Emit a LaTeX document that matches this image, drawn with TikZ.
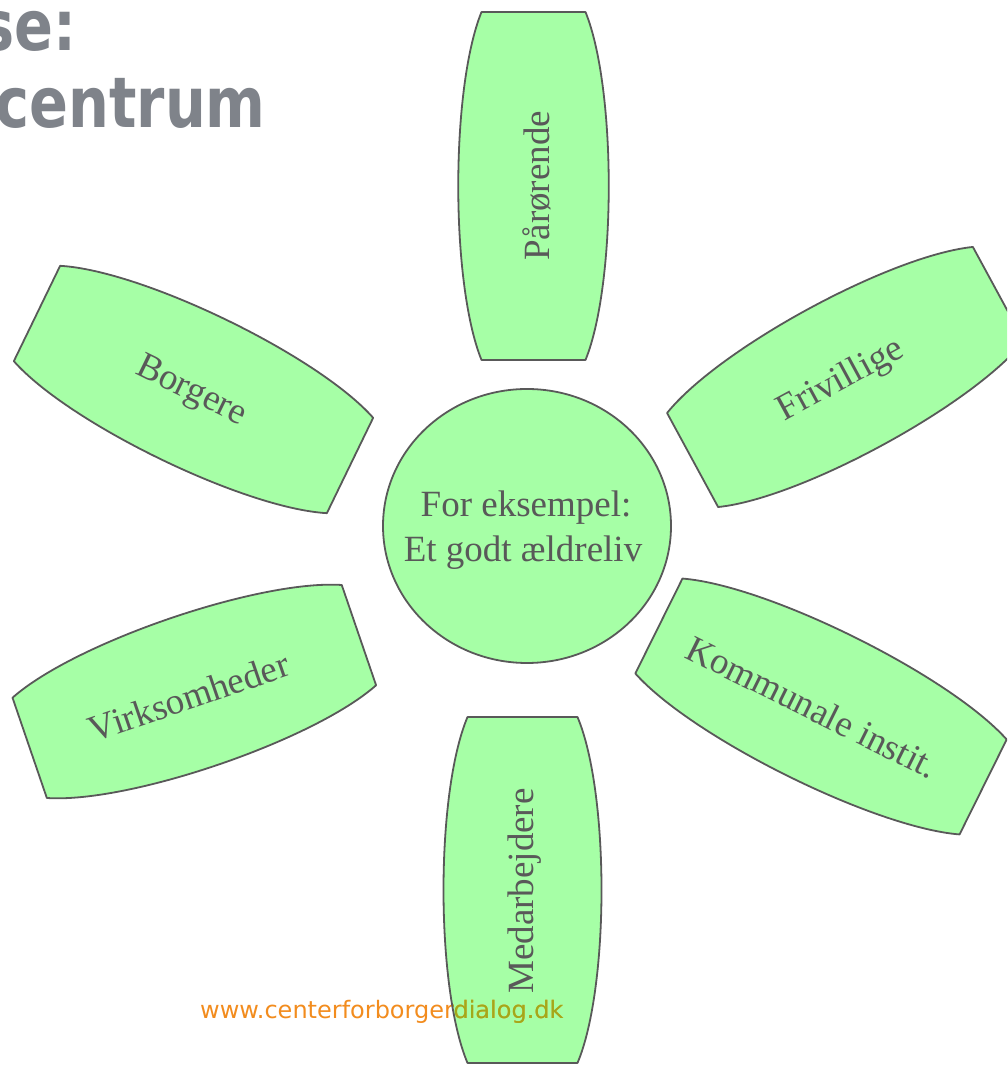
\documentclass[tikz,border=0pt]{standalone}
\usepackage{fontspec}
\setmainfont{Liberation Serif}
\newfontfamily\titlefont{DejaVu Sans}[FakeStretch=0.82]
\newfontfamily\urlfont{DejaVu Sans}
\usetikzlibrary{shapes.geometric}
\definecolor{petalfill}{RGB}{166,255,166}
\definecolor{petalline}{RGB}{89,89,89}
\definecolor{petaltxt}{RGB}{89,89,89}
\definecolor{titlegray}{RGB}{127,131,138}
\definecolor{urlorange}{RGB}{242,140,30}
\definecolor{urlolive}{RGB}{160,170,26}
% petal along local x axis, centred at origin: #1 half length, #2 end half width, #3 bulge control, #4 options
\newcommand\hpetal[4]{\path[#4] (-#1,-#2) -- (-#1,#2)
  .. controls ({-0.56*#1},{#2+#3}) and ({0.56*#1},{#2+#3}) .. (#1,#2) -- (#1,-#2)
  .. controls ({0.56*#1},{-#2-#3}) and ({-0.56*#1},{-#2-#3}) .. (-#1,-#2) -- cycle;}
% vertical petal in absolute coordinates: #1 cx, #2 cy, #3 half length, #4 half width, #5 bulge, #6 options
\newcommand\vpetal[6]{\path[#6] ({#1-#4},{#2-#3}) -- ({#1+#4},{#2-#3})
  .. controls ({#1+#4+#5},{#2-0.56*#3}) and ({#1+#4+#5},{#2+0.56*#3}) .. ({#1+#4},{#2+#3}) -- ({#1-#4},{#2+#3})
  .. controls ({#1-#4-#5},{#2+0.56*#3}) and ({#1-#4-#5},{#2-0.56*#3}) .. ({#1-#4},{#2-#3}) -- cycle;}
\begin{document}
\begin{tikzpicture}[x=1pt,y=1pt,
  petalshape/.style={fill=petalfill, draw=petalline, line width=1.8pt, line join=round},
  petaltext/.style={text=petaltxt, font=\fontsize{37}{44}\selectfont, inner sep=0pt},
  titletext/.style={text=titlegray, font=\titlefont\bfseries\fontsize{70}{74}\selectfont, inner sep=0pt},
  urltext/.style={font=\urlfont\fontsize{24}{28}\selectfont, inner sep=0pt}]
\useasboundingbox (0,0) rectangle (1007,1065);
\clip (0,0) rectangle (1007,1065);

% title (cut at the left edge)
\node[titletext, anchor=base east] (t1) at (77,1014) {se:};
\node[titletext, anchor=base east] (t2) at (266,937) {centrum};

% centre
\node[ellipse, fill=petalfill, draw=petalline, line width=1.8pt,
      minimum width=288pt, minimum height=274pt, inner sep=0pt] (centre) at (527,539) {};
\node[petaltext, anchor=base] (c1) at (526,548) {For eksempel:};
\node[petaltext, anchor=base] (c2) at (523,503) {Et godt ældreliv};

% Paarorende (top)
\vpetal{533.5}{879}{174}{52}{31}{petalshape}
\node[petaltext, rotate=90] (paar) at (537,879) {Pårørende};

% Borgere
\begin{scope}[shift={(193.5,675.5)}, rotate=-25.9]
\hpetal{174}{53}{32}{petalshape}
\end{scope}
\node[petaltext, rotate=-25.9] (borg) at (191,673) {Borgere};

% Frivillige
\begin{scope}[shift={(845.5,688)}, rotate=28.5]
\hpetal{174}{53.5}{32}{petalshape}
\end{scope}
\node[petaltext, rotate=28.5] (friv) at (841,684) {Frivillige};

% Kommunale instit.
\begin{scope}[shift={(821,358.5)}, rotate=-26.4]
\hpetal{181}{53}{32}{petalshape}
\end{scope}
\node[petaltext, rotate=-26.4] (komm) at (812,358) {Kommunale instit.};

% Virksomheder
\begin{scope}[shift={(194.3,373.5)}, rotate=18.9]
\hpetal{174}{53}{32}{petalshape}
\end{scope}
\node[petaltext, rotate=18.9] (virk) at (189,368) {Virksomheder};

% Medarbejdere (bottom) with the web address running over it
\vpetal{522.5}{175}{173}{55}{32}{fill=petalfill}
\node[urltext, text=urlorange, anchor=base west] (url) at (200,46) {www.centerforborgerdialog.dk};
\begin{scope}
\vpetal{522.5}{175}{173}{55}{32}{clip}
\node[urltext, text=urlolive, anchor=base west] (urlover) at (200,46) {www.centerforborgerdialog.dk};
\end{scope}
\vpetal{522.5}{175}{173}{55}{32}{draw=petalline, line width=1.8pt, line join=round}
\node[petaltext, rotate=90] (medar) at (525,174) {Medarbejdere};
\end{tikzpicture}
\end{document}
